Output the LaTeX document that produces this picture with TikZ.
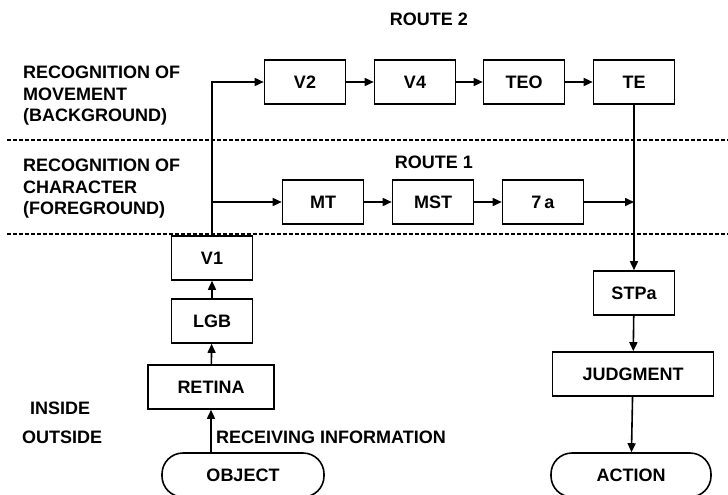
\documentclass[tikz,border=0pt]{standalone}
\usepackage{fontspec}
\setmainfont{Liberation Sans}
\usetikzlibrary{arrows.meta}
\begin{document}
\begin{tikzpicture}[x=1pt,y=-1pt,line width=1.6pt,
  font=\fontsize{18}{21.5}\selectfont\bfseries,
  box/.style={draw,minimum width=81pt,minimum height=44pt,inner sep=2pt},
  term/.style={draw,rounded corners=21pt,minimum width=162pt,minimum height=44pt},
  label/.style={anchor=west,align=left},
  arr/.style={-{Triangle[length=9pt,width=8pt]}}]
       \clip (0,0) rectangle (728,495);
       \useasboundingbox (0,0) rectangle (728,495);

       \node (R2) at (429,19) {ROUTE 2};
       \node (R1) at (434,162) {ROUTE 1};
       \node[label] (L1) at (19,96) {RECOGNITION OF\\MOVEMENT\\(BACKGROUND)};
       \node[label] (L2) at (19,189) {RECOGNITION OF\\CHARACTER\\(FOREGROUND)};
       \node[label] (IN) at (26,408) {INSIDE};
       \node[label] (OUT) at (18,437) {OUTSIDE};
       \node[label] (RI) at (212,437) {RECEIVING INFORMATION};

       \draw[dash pattern=on 4pt off 2pt] (7,140) -- (728,140);
       \draw[dash pattern=on 4pt off 2pt] (7,234) -- (728,234);

       \node[box] (V2) at (305,82) {V2};
       \node[box] (V4) at (415,82) {V4};
       \node[box] (TEO) at (524,82) {TEO};
       \node[box] (TE) at (634,82) {TE};

       \node[box] (MT) at (323,202) {MT};
       \node[box] (MST) at (433,202) {MST};
       \node[box] (7a) at (543,202) {7\,a};

       \node[box] (V1) at (212,258) {V1};
       \node[box] (LGB) at (212,321) {LGB};
       \node[box,minimum width=126pt] (RETINA) at (211,387) {RETINA};
       \node[term] (OBJECT) at (243,475) {OBJECT};

       \node[box] (STPa) at (634,293) {STPa};
       \node[box,minimum width=161pt] (JUDGMENT) at (633,374) {JUDGMENT};
       \node[term,minimum width=160pt] (ACTION) at (631,475) {ACTION};

       \draw[arr] (V1.north) |- (V2.west);
       \draw[arr] (V1.north |- MT) -- (MT.west);
       \draw[arr] (V2) -- (V4);
       \draw[arr] (V4) -- (TEO);
       \draw[arr] (TEO) -- (TE);
       \draw[arr] (MT) -- (MST);
       \draw[arr] (MST) -- (7a);
       \draw[arr] (7a.east) -- (7a.east -| TE.south);
       \draw[arr] (TE.south) -- (STPa.north);
       \draw[arr] (STPa) -- (JUDGMENT);
       \draw[arr] (JUDGMENT) -- (ACTION);
       \draw[arr] (LGB) -- (V1);
       \draw[arr] (RETINA) -- (LGB);
       \draw[arr] (RETINA.south |- OBJECT.north) -- (RETINA.south);
     \end{tikzpicture}
\end{document}
